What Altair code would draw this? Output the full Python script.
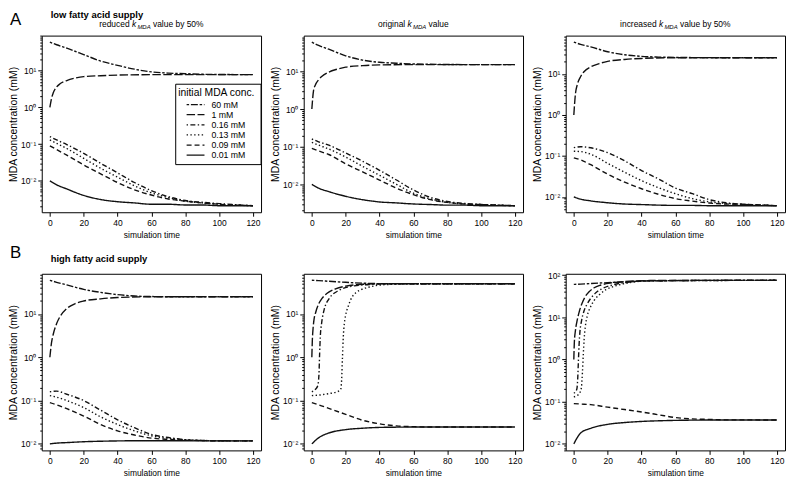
import math
import altair as alt
import pandas as pd

SERIES = ["60 mM", "1 mM", "0.16 mM", "0.13 mM", "0.09 mM", "0.01 mM"]
DASHES = [[2.5, 1.8, 7, 1.8], [8.5, 2.5], [1.4, 2.4, 5, 2.4], [1.4, 2.4], [5, 3], [1, 0]]

T_LOW = [0, 4, 10, 20, 30, 40, 50, 60, 70, 80, 90, 100, 120]
T_RISE = [0, 1, 2, 4, 6, 10, 15, 20, 30, 40, 60, 120]

A1 = {
    "60 mM": (T_LOW, [60, 51, 41, 27.5, 18.3, 14, 11, 9.3, 8.6, 8.3, 8.0, 7.9, 7.8]),
    "1 mM": (T_RISE, [1, 1.77, 2.5, 3.6, 4.4, 5.4, 6.3, 6.9, 7.3, 7.6, 7.8, 7.8]),
    "0.16 mM": (T_LOW, [0.16, 0.13, 0.097, 0.056, 0.030, 0.0165, 0.0090, 0.0054, 0.0037, 0.0029, 0.0026, 0.0024, 0.0021]),
    "0.13 mM": (T_LOW, [0.13, 0.105, 0.076, 0.041, 0.022, 0.0126, 0.0073, 0.0047, 0.0035, 0.0028, 0.0025, 0.0023, 0.0021]),
    "0.09 mM": (T_LOW, [0.09, 0.071, 0.050, 0.027, 0.0155, 0.0090, 0.0057, 0.0041, 0.0032, 0.0028, 0.0025, 0.0023, 0.0021]),
    "0.01 mM": (T_LOW, [0.01, 0.0078, 0.0060, 0.0040, 0.0031, 0.0027, 0.0025, 0.0023, 0.0023, 0.0022, 0.0022, 0.0021, 0.0021]),
}
A2 = {
    "60 mM": (T_LOW, [60, 49, 39, 26, 20, 17.5, 16.5, 15.8, 15.5, 15.3, 15.2, 15.2, 15.2]),
    "1 mM": (T_RISE, [1, 3.1, 4.3, 6.0, 7.4, 9.6, 11.5, 13, 14.3, 14.9, 15.2, 15.2]),
    "0.16 mM": (T_LOW, [0.16, 0.135, 0.11, 0.068, 0.041, 0.0236, 0.013, 0.0071, 0.0045, 0.0035, 0.0031, 0.0029, 0.0027]),
    "0.13 mM": (T_LOW, [0.13, 0.11, 0.087, 0.053, 0.030, 0.0174, 0.010, 0.0058, 0.0041, 0.0033, 0.0030, 0.0029, 0.0027]),
    "0.09 mM": (T_LOW, [0.09, 0.077, 0.062, 0.035, 0.0214, 0.013, 0.0079, 0.0053, 0.0039, 0.0033, 0.0030, 0.0029, 0.0027]),
    "0.01 mM": (T_LOW, [0.01, 0.0079, 0.0064, 0.0048, 0.0039, 0.0034, 0.0032, 0.0030, 0.0029, 0.0028, 0.0028, 0.0027, 0.0027]),
}
A3 = {
    "60 mM": (T_LOW, [60, 53, 46, 35, 29.5, 27, 25.9, 25.4, 25.2, 25.1, 25, 25, 25]),
    "1 mM": (T_RISE, [1, 3.4, 5.4, 8.6, 11.4, 15, 18, 20.4, 22.7, 24, 25, 25]),
    "0.16 mM": (T_LOW, [0.16, 0.168, 0.158, 0.12, 0.076, 0.044, 0.0275, 0.0165, 0.012, 0.0086, 0.0072, 0.0066, 0.0061]),
    "0.13 mM": (T_LOW, [0.13, 0.128, 0.11, 0.066, 0.040, 0.025, 0.0168, 0.012, 0.0091, 0.0076, 0.0069, 0.0066, 0.0061]),
    "0.09 mM": (T_LOW, [0.09, 0.08, 0.061, 0.036, 0.023, 0.0158, 0.0116, 0.0091, 0.0079, 0.0071, 0.0067, 0.0066, 0.0061]),
    "0.01 mM": (T_LOW, [0.01, 0.0088, 0.0080, 0.0072, 0.0067, 0.0065, 0.0063, 0.0062, 0.0062, 0.0061, 0.0061, 0.0061, 0.0061]),
}
B1 = {
    "60 mM": (T_LOW, [60, 54, 47, 37, 31.6, 28, 26, 25.3, 25, 25, 25, 25, 25]),
    "1 mM": (T_RISE, [1, 2.2, 3.4, 6.0, 8.7, 13.4, 17.4, 20, 22.4, 24, 25, 25]),
    "0.16 mM": (T_LOW, [0.16, 0.165, 0.14, 0.10, 0.06, 0.036, 0.0236, 0.0166, 0.014, 0.0125, 0.012, 0.0118, 0.0117]),
    "0.13 mM": (T_LOW, [0.13, 0.12, 0.10, 0.069, 0.042, 0.028, 0.020, 0.0154, 0.0134, 0.0125, 0.012, 0.0118, 0.0117]),
    "0.09 mM": (T_LOW, [0.09, 0.08, 0.065, 0.044, 0.028, 0.020, 0.016, 0.0136, 0.0127, 0.0122, 0.0119, 0.0118, 0.0117]),
    "0.01 mM": (T_LOW, [0.01, 0.0104, 0.0107, 0.0112, 0.0115, 0.0117, 0.0118, 0.0118, 0.0118, 0.0118, 0.0117, 0.0117, 0.0117]),
}
B2 = {
    "60 mM": (T_LOW, [60, 59, 57, 54, 51.5, 50.3, 50, 50, 50, 50, 50, 50, 50]),
    "1 mM": ([0, 0.3, 0.7, 1.3, 2.3, 4, 6, 8, 10, 14, 20, 30, 45, 120],
             [1, 2.5, 4.5, 7.5, 11, 17, 23, 28, 32, 38, 44, 48.5, 50, 50]),
    "0.16 mM": ([0, 2, 3.5, 4.2, 4.6, 5.0, 5.8, 7.2, 10, 16, 25, 39, 50, 120],
                [0.16, 0.18, 0.22, 0.4, 1.2, 3.0, 6.2, 12.3, 22, 35, 44.6, 49, 50, 50]),
    "0.13 mM": ([0, 5, 10, 15, 17, 17.6, 18.1, 18.6, 19.2, 20, 21.5, 23.6, 26, 29.4, 34, 39, 47, 60, 120],
                [0.13, 0.135, 0.145, 0.16, 0.18, 0.3, 1.0, 3.0, 6.0, 9.5, 15, 24, 31, 37, 42, 46, 48.5, 50, 50]),
    "0.09 mM": (T_LOW, [0.09, 0.08, 0.066, 0.048, 0.035, 0.029, 0.026, 0.025, 0.0245, 0.0245, 0.0245, 0.0245, 0.0245]),
    "0.01 mM": (T_LOW, [0.01, 0.0138, 0.0178, 0.0213, 0.023, 0.024, 0.0243, 0.0245, 0.0245, 0.0245, 0.0245, 0.0245, 0.0245]),
}
B3 = {
    "60 mM": (T_LOW, [60, 61, 63, 66, 69, 72, 73, 74, 74.5, 74.8, 75, 75, 75]),
    "1 mM": ([0, 0.3, 1, 2, 3.3, 5, 7, 9, 12, 16, 22, 30, 45, 120],
             [1, 2.5, 5, 8.5, 14, 22, 32, 40, 50, 58, 65, 70, 74, 75]),
    "0.16 mM": ([0, 1, 1.8, 2.3, 2.7, 3.1, 3.6, 4.5, 6, 8, 10, 13, 17, 22, 30, 45, 120],
                [0.16, 0.17, 0.2, 0.35, 0.9, 2.2, 4.5, 8, 14, 21, 28, 38, 48, 57, 66, 73, 75]),
    "0.13 mM": ([0, 2, 3.5, 4.5, 5.1, 5.6, 6.1, 6.8, 8, 10, 12, 15, 19, 25, 32, 45, 120],
                [0.13, 0.14, 0.16, 0.22, 0.5, 1.3, 3, 6, 11, 18, 25, 34, 45, 56, 65, 73, 75]),
    "0.09 mM": (T_LOW, [0.09, 0.088, 0.085, 0.074, 0.065, 0.057, 0.049, 0.042, 0.039, 0.038, 0.037, 0.037, 0.0367]),
    "0.01 mM": (T_LOW, [0.01, 0.018, 0.0234, 0.029, 0.032, 0.034, 0.0352, 0.036, 0.0365, 0.0367, 0.0367, 0.0367, 0.0367]),
}

X_TICKS = [0, 20, 40, 60, 80, 100, 120]
SUB_PREFIX = ["reduced", "original", "increased"]
SUB_SUFFIX = ["value by 50%", "value", "value by 50%"]
ROW_LETTER = ["A", "B"]
ROW_TITLE = ["low fatty acid supply", "high fatty acid supply"]
LEGEND_TITLE = "initial MDA conc."

W, H = 221, 178
FONT = "Liberation Sans"

ARIAL = {' ': 278, '%': 889, 'A': 667, 'D': 722, 'M': 833, 'a': 556, 'b': 556, 'c': 500,
         'd': 556, 'e': 556, 'g': 556, 'i': 222, 'k': 500, 'l': 222, 'n': 556, 'o': 556,
         'r': 333, 's': 500, 't': 278, 'u': 556, 'v': 500, 'y': 500}


def tw(s, size):
    return sum(ARIAL.get(c, 556) for c in s) * size / 1000.0


ONE = pd.DataFrame({"a": [0]})
DASH_SCALE = alt.Scale(domain=SERIES, range=DASHES)


def text_layer(txt, x, y, size, style="normal", weight="normal", align="left"):
    return alt.Chart(ONE).mark_text(
        text=txt, align=align, baseline="alphabetic", fontSize=size, fontStyle=style,
        fontWeight=weight, font=FONT, color="black"
    ).encode(x=alt.value(x), y=alt.value(y))


def legend_layers():
    # legend box placed inside the first panel, flush with its right border
    bx0, bx1, by0, by1 = W - 86, W, 49, 130
    leg = pd.DataFrame({"series": SERIES, "idx": list(range(len(SERIES)))})
    ypos = alt.Y("idx:Q", scale=alt.Scale(domain=[0, len(SERIES) - 1], range=[by0 + 20.5, by0 + 71.5]),
                 axis=None)
    box = alt.Chart(ONE).mark_rect(fill="white", stroke="black", strokeWidth=1).encode(
        x=alt.value(bx0), x2=alt.value(bx1), y=alt.value(by0), y2=alt.value(by1))
    rules = alt.Chart(leg).mark_rule(strokeWidth=1.3, color="#111").encode(
        x=alt.value(bx0 + 11), x2=alt.value(bx0 + 29), y=ypos,
        strokeDash=alt.StrokeDash("series:N", scale=DASH_SCALE, legend=None))
    labels = alt.Chart(leg).mark_text(
        align="left", baseline="middle", fontSize=8.8, font=FONT, color="black"
    ).encode(x=alt.value(bx0 + 36), y=ypos, text="series:N")
    title = text_layer(LEGEND_TITLE, bx0 + 2.5, by0 + 11.5, 10.4)
    return [box, rules, labels, title]


MAJOR = "abs(log(datum.value)/LN10 - round(log(datum.value)/LN10)) < 0.001"
LABEL_EXPR = ("(" + MAJOR + ") ? '10' + ['⁻³','⁻²','⁻¹','⁰','¹','²'][round(log(datum.value)/LN10) + 3] : ''")


def panel(data, row, col):
    rows = []
    for s in SERIES:
        ts, vs = data[s]
        for t, v in zip(ts, vs):
            rows.append({"series": s, "t": t, "v": v})
    df = pd.DataFrame(rows)
    lmin = math.log10(df["v"].min())
    lmax = math.log10(df["v"].max())
    r = lmax - lmin
    lo, hi = 10 ** (lmin - 0.04 * r), 10 ** (lmax + 0.04 * r)
    yt = []
    for k in range(-4, 3):
        for m in range(1, 10):
            v = float(f"{m}e{k}")
            if lo <= v <= hi:
                yt.append(v)
    lines = alt.Chart(df).mark_line(
        interpolate="monotone", strokeWidth=1.4, color="#111", clip=True
    ).encode(
        x=alt.X("t:Q", scale=alt.Scale(domain=[-4.8, 124.8], nice=False, zero=False),
                axis=alt.Axis(values=X_TICKS, title="simulation time", tickSize=4,
                              labelPadding=2, titlePadding=4, labelFlush=False,
                              labelOverlap=False)),
        y=alt.Y("v:Q", scale=alt.Scale(type="log", domain=[lo, hi], nice=False),
                axis=alt.Axis(values=yt, labelExpr=LABEL_EXPR, title="MDA concentration (mM)",
                              titleFontSize=10.5, labelFontSize=8.5,
                              tickSize={"condition": {"test": MAJOR, "value": 4}, "value": 2},
                              labelPadding=2, titlePadding=2, labelFlush=False,
                              labelOverlap=False)),
        strokeDash=alt.StrokeDash("series:N", scale=DASH_SCALE, legend=None),
        order=alt.Order("t:Q"),
    )
    layers = [lines]
    if row == 0:
        fs = 8.5
        space = tw(" ", fs)
        pieces = [(SUB_PREFIX[col], fs, "normal", 0, space), ("k", fs, "italic", 0, 1.2),
                  ("MDA", 6, "italic", 2, space), (SUB_SUFFIX[col], fs, "normal", 0, 0)]
        total = sum(tw(p[0], p[1]) + p[4] for p in pieces)
        x = W / 2 - total / 2
        for txt, size, style, dy, gap in pieces:
            layers.append(text_layer(txt, x, -8.5 + dy, size, style=style))
            x += tw(txt, size) + gap
    if col == 0:
        if row == 0:
            layers.append(text_layer(ROW_LETTER[0], -32, -11, 17))
            layers.append(text_layer(ROW_TITLE[0], 9, -17.5, 9.5, weight="bold"))
            layers += legend_layers()
        else:
            layers.append(text_layer(ROW_LETTER[1], -32, -16, 17))
            layers.append(text_layer(ROW_TITLE[1], 9, -12, 9.5, weight="bold"))
    ch = alt.layer(*layers).properties(width=W, height=H)
    if row == 0 and col == 0:
        ch = ch.resolve_scale(y="independent")
    return ch


panels = [panel(A1, 0, 0), panel(A2, 0, 1), panel(A3, 0, 2),
          panel(B1, 1, 0), panel(B2, 1, 1), panel(B3, 1, 2)]

chart = alt.concat(
    *panels, columns=3, spacing={"row": 62, "column": 43}, bounds="flush"
).properties(padding=0).configure(font=FONT).configure_view(
    stroke="black", strokeWidth=1
).configure_axis(
    domain=False, grid=False, tickColor="black", labelColor="black", titleColor="black",
    labelFont=FONT, titleFont=FONT, labelFontSize=8.5, titleFontSize=8.5, titleFontWeight="normal",
)

chart.save("out.html", embed_options={"renderer": "svg", "actions": False})
